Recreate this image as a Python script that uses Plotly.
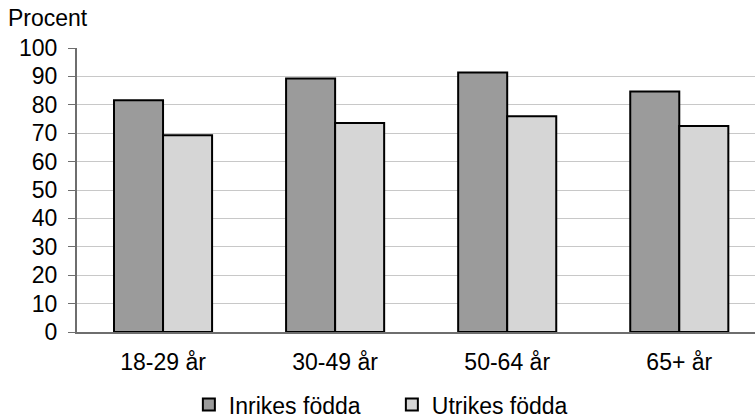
import plotly.graph_objects as go

categories = ["18-29 år", "30-49 år", "50-64 år", "65+ år"]
inrikes = [81.6, 89.3, 91.4, 84.7]
utrikes = [69.3, 73.6, 76.0, 72.5]
y_ticks = [0, 10, 20, 30, 40, 50, 60, 70, 80, 90, 100]

font = "Liberation Sans, Arial, sans-serif"

fig = go.Figure()
fig.add_trace(go.Bar(
    x=categories, y=inrikes, name="Inrikes födda",
    marker=dict(color="#9b9b9b", line=dict(color="#000000", width=2)),
))
fig.add_trace(go.Bar(
    x=categories, y=utrikes, name="Utrikes födda",
    marker=dict(color="#d6d6d6", line=dict(color="#000000", width=2)),
))

fig.update_layout(
    width=756, height=419,
    barmode="group",
    bargap=0.43, bargroupgap=0,
    plot_bgcolor="white", paper_bgcolor="white",
    font=dict(family=font, size=23, color="#000000"),
    margin=dict(l=77, r=1, t=48, b=87, autoexpand=False),
    showlegend=True,
    legend=dict(
        orientation="h", x=0.165, xanchor="left", y=-0.18, yanchor="top",
        font=dict(size=23), itemwidth=30, traceorder="normal",
        entrywidth=158, bgcolor="rgba(0,0,0,0)",
    ),
    xaxis=dict(
        # the original plot area runs a bit past the right edge of the image
        range=[-0.5, 3.44],
        showline=True, linecolor="#6e6e6e", linewidth=2,
        ticks="", tickfont=dict(size=23), automargin=False,
        ticklabelstandoff=8,
    ),
    yaxis=dict(
        range=[0, 100], tickvals=y_ticks,
        showgrid=True, gridcolor="#c8c8c8", gridwidth=1,
        showline=True, linecolor="#6e6e6e", linewidth=2,
        ticks="outside", ticklen=7, tickcolor="#6e6e6e",
        tickfont=dict(size=23), zeroline=False, automargin=False,
        ticklabelstandoff=6,
    ),
)

fig.add_annotation(
    text="Procent", xref="paper", yref="paper", x=-0.105, y=1.0,
    yshift=15, xanchor="left", yanchor="bottom", showarrow=False,
    font=dict(size=23),
)

# drop the default 8px body margin so the figure fills the window
fig.write_html(
    "out.html",
    config={"displayModeBar": False},
    post_script="document.body.style.margin='0px';",
)
